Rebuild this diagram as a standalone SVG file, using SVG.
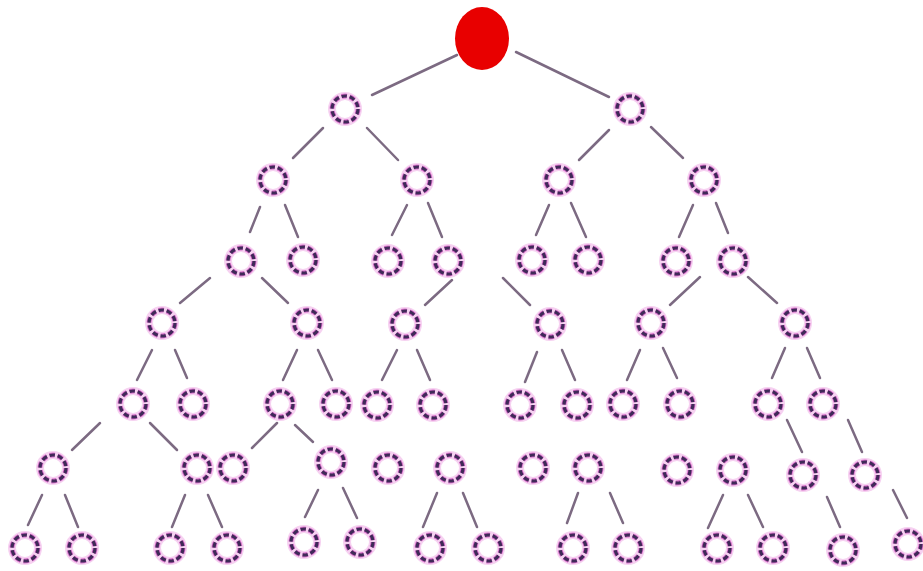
<svg xmlns="http://www.w3.org/2000/svg" width="923" height="571" viewBox="0 0 923 571">
<defs>
<style>
.bg{fill:#ffffff}
.edge{stroke:#7c6a82;stroke-width:2.5;stroke-linecap:round;fill:none}
.halo{fill:none;stroke:#f6d2f1;stroke-width:8}
.ring1{fill:none;stroke:#d66cc8;stroke-width:5;stroke-dasharray:5.4 2.8}
.ring2{fill:none;stroke:#3f2958;stroke-width:3.2;stroke-dasharray:5.4 2.8}
.root{fill:#e80000}
</style>
<g id="n">
<circle r="13" class="halo"/>
<circle r="13" class="ring1"/>
<circle r="13" class="ring2"/>
</g>
</defs>
<rect class="bg" x="0" y="0" width="923" height="571"/>
<g id="connectors">
<line class="edge" x1="457" y1="55" x2="372" y2="95"/>
<line class="edge" x1="516" y1="52" x2="609" y2="97"/>
<line class="edge" x1="323" y1="128" x2="293" y2="158"/>
<line class="edge" x1="367" y1="128" x2="398" y2="160"/>
<line class="edge" x1="609" y1="130" x2="579" y2="160"/>
<line class="edge" x1="651" y1="127" x2="683" y2="158"/>
<line class="edge" x1="260" y1="207" x2="250" y2="232"/>
<line class="edge" x1="285" y1="205" x2="298" y2="237"/>
<line class="edge" x1="407" y1="205" x2="392" y2="235"/>
<line class="edge" x1="428" y1="203" x2="442" y2="237"/>
<line class="edge" x1="549" y1="205" x2="536" y2="235"/>
<line class="edge" x1="571" y1="203" x2="586" y2="237"/>
<line class="edge" x1="693" y1="205" x2="679" y2="237"/>
<line class="edge" x1="716" y1="203" x2="728" y2="233"/>
<line class="edge" x1="210" y1="278" x2="180" y2="303"/>
<line class="edge" x1="262" y1="278" x2="288" y2="303"/>
<line class="edge" x1="452" y1="280" x2="425" y2="305"/>
<line class="edge" x1="503" y1="278" x2="530" y2="305"/>
<line class="edge" x1="700" y1="277" x2="670" y2="305"/>
<line class="edge" x1="748" y1="277" x2="777" y2="303"/>
<line class="edge" x1="152" y1="350" x2="137" y2="380"/>
<line class="edge" x1="175" y1="350" x2="187" y2="378"/>
<line class="edge" x1="297" y1="350" x2="283" y2="380"/>
<line class="edge" x1="318" y1="350" x2="332" y2="380"/>
<line class="edge" x1="397" y1="350" x2="382" y2="380"/>
<line class="edge" x1="417" y1="350" x2="430" y2="380"/>
<line class="edge" x1="537" y1="352" x2="525" y2="382"/>
<line class="edge" x1="562" y1="350" x2="575" y2="380"/>
<line class="edge" x1="640" y1="350" x2="627" y2="380"/>
<line class="edge" x1="663" y1="348" x2="677" y2="378"/>
<line class="edge" x1="785" y1="348" x2="772" y2="378"/>
<line class="edge" x1="807" y1="348" x2="820" y2="378"/>
<line class="edge" x1="100" y1="423" x2="72" y2="450"/>
<line class="edge" x1="150" y1="423" x2="177" y2="450"/>
<line class="edge" x1="277" y1="423" x2="252" y2="448"/>
<line class="edge" x1="295" y1="425" x2="313" y2="442"/>
<line class="edge" x1="787" y1="420" x2="802" y2="452"/>
<line class="edge" x1="848" y1="420" x2="862" y2="452"/>
<line class="edge" x1="42" y1="495" x2="28" y2="525"/>
<line class="edge" x1="65" y1="495" x2="78" y2="527"/>
<line class="edge" x1="185" y1="495" x2="172" y2="527"/>
<line class="edge" x1="208" y1="495" x2="222" y2="527"/>
<line class="edge" x1="318" y1="490" x2="305" y2="517"/>
<line class="edge" x1="343" y1="488" x2="357" y2="518"/>
<line class="edge" x1="437" y1="493" x2="423" y2="527"/>
<line class="edge" x1="463" y1="493" x2="477" y2="527"/>
<line class="edge" x1="578" y1="493" x2="567" y2="523"/>
<line class="edge" x1="610" y1="493" x2="623" y2="523"/>
<line class="edge" x1="723" y1="495" x2="708" y2="528"/>
<line class="edge" x1="748" y1="495" x2="763" y2="527"/>
<line class="edge" x1="827" y1="497" x2="840" y2="527"/>
<line class="edge" x1="893" y1="490" x2="907" y2="518"/>
</g>
<g id="root"><ellipse class="root" cx="482" cy="38.5" rx="27" ry="31.5"/></g>
<g id="n1a"><use href="#n" x="345" y="109"/></g>
<g id="n1b"><use href="#n" x="630" y="109"/></g>
<g id="n2a"><use href="#n" x="273" y="180"/></g>
<g id="n2b"><use href="#n" x="417" y="180"/></g>
<g id="n2c"><use href="#n" x="559" y="180"/></g>
<g id="n2d"><use href="#n" x="704" y="180"/></g>
<g id="n3a"><use href="#n" x="241" y="261"/></g>
<g id="n3b"><use href="#n" x="303" y="260"/></g>
<g id="n3c"><use href="#n" x="388" y="261"/></g>
<g id="n3d"><use href="#n" x="448" y="261"/></g>
<g id="n3e"><use href="#n" x="532" y="260"/></g>
<g id="n3f"><use href="#n" x="588" y="260"/></g>
<g id="n3g"><use href="#n" x="676" y="261"/></g>
<g id="n3h"><use href="#n" x="733" y="261"/></g>
<g id="n4a"><use href="#n" x="162" y="323"/></g>
<g id="n4b"><use href="#n" x="307" y="323"/></g>
<g id="n4c"><use href="#n" x="405" y="324"/></g>
<g id="n4d"><use href="#n" x="550" y="324"/></g>
<g id="n4e"><use href="#n" x="651" y="323"/></g>
<g id="n4f"><use href="#n" x="795" y="323"/></g>
<g id="n5a"><use href="#n" x="133" y="404"/></g>
<g id="n5b"><use href="#n" x="193" y="404"/></g>
<g id="n5c"><use href="#n" x="280" y="404"/></g>
<g id="n5d"><use href="#n" x="336" y="404"/></g>
<g id="n5e"><use href="#n" x="377" y="405"/></g>
<g id="n5f"><use href="#n" x="433" y="405"/></g>
<g id="n5g"><use href="#n" x="520" y="405"/></g>
<g id="n5h"><use href="#n" x="577" y="405"/></g>
<g id="n5i"><use href="#n" x="623" y="404"/></g>
<g id="n5j"><use href="#n" x="680" y="404"/></g>
<g id="n5k"><use href="#n" x="768" y="404"/></g>
<g id="n5l"><use href="#n" x="823" y="404"/></g>
<g id="n6a"><use href="#n" x="53" y="468"/></g>
<g id="n6b"><use href="#n" x="197" y="468"/></g>
<g id="n6c"><use href="#n" x="233" y="468"/></g>
<g id="n6d"><use href="#n" x="331" y="462"/></g>
<g id="n6e"><use href="#n" x="388" y="468"/></g>
<g id="n6f"><use href="#n" x="450" y="468"/></g>
<g id="n6g"><use href="#n" x="533" y="468"/></g>
<g id="n6h"><use href="#n" x="588" y="468"/></g>
<g id="n6i"><use href="#n" x="677" y="470"/></g>
<g id="n6j"><use href="#n" x="733" y="470"/></g>
<g id="n6k"><use href="#n" x="803" y="475"/></g>
<g id="n6l"><use href="#n" x="865" y="475"/></g>
<g id="n7a"><use href="#n" x="25" y="548"/></g>
<g id="n7b"><use href="#n" x="82" y="548"/></g>
<g id="n7c"><use href="#n" x="170" y="548"/></g>
<g id="n7d"><use href="#n" x="227" y="548"/></g>
<g id="n7e"><use href="#n" x="304" y="542"/></g>
<g id="n7f"><use href="#n" x="360" y="542"/></g>
<g id="n7g"><use href="#n" x="430" y="548"/></g>
<g id="n7h"><use href="#n" x="488" y="548"/></g>
<g id="n7i"><use href="#n" x="573" y="548"/></g>
<g id="n7j"><use href="#n" x="628" y="548"/></g>
<g id="n7k"><use href="#n" x="717" y="548"/></g>
<g id="n7l"><use href="#n" x="773" y="548"/></g>
<g id="n7m"><use href="#n" x="843" y="550"/></g>
<g id="n7n"><use href="#n" x="908" y="544"/></g>
</svg>
